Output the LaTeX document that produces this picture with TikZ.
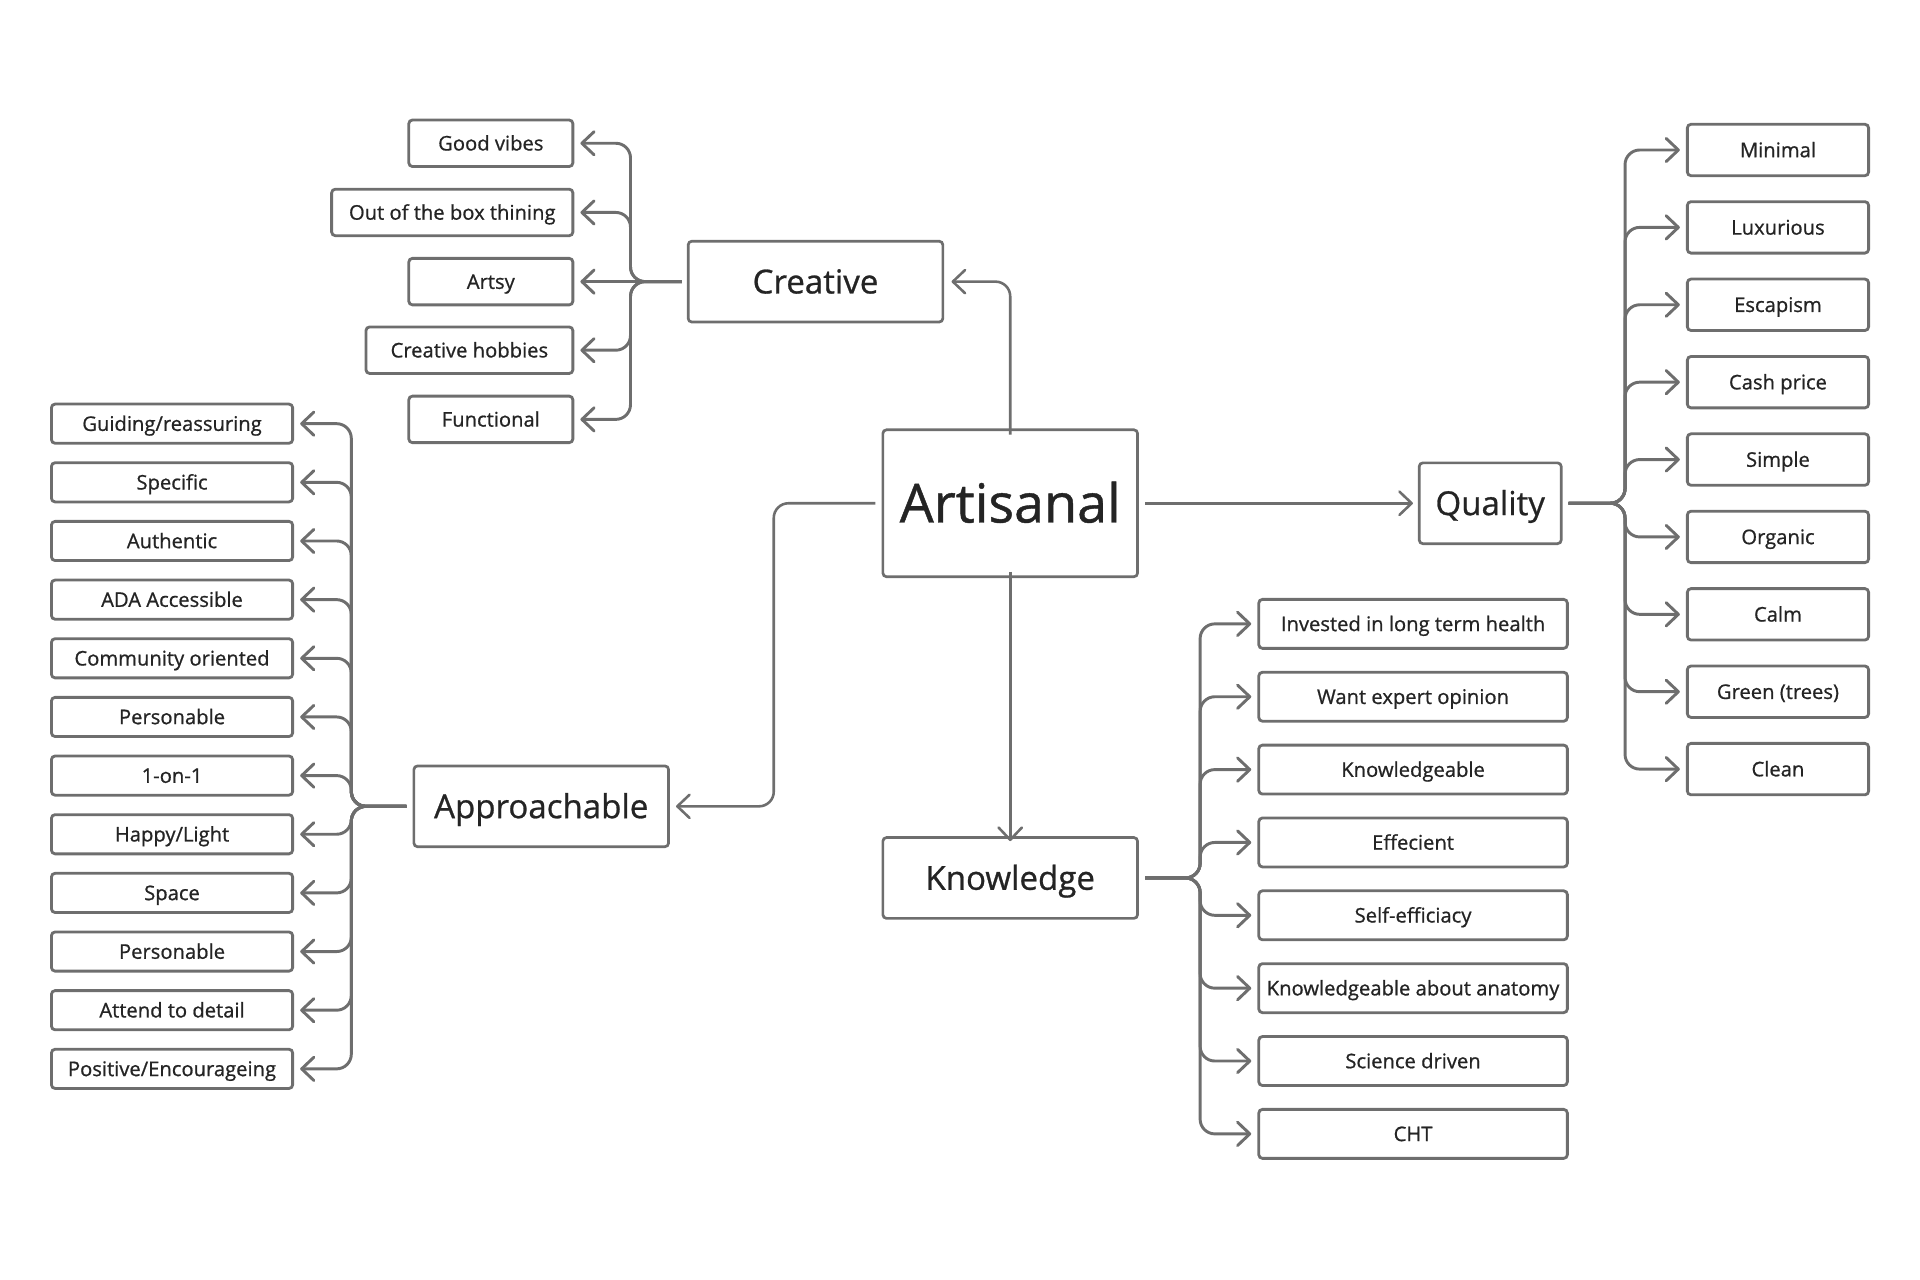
\documentclass[tikz,border=0pt]{standalone}
\usepackage{fontspec}
\setmainfont{Open Sans}[FakeBold=0.8, AutoFakeBold=0.8]
\usetikzlibrary{arrows.meta}
\definecolor{ln}{HTML}{6E6E6E}
\definecolor{tx}{HTML}{242424}
\tikzset{
  box/.style={draw=ln, line width=2.3pt, rounded corners=3pt, inner sep=0pt, text=tx, fill=white, text depth=0pt},
  item/.style={box, font=\fontsize{16.5}{19}\bfseries, text height=11.8pt},
  mainbox/.style={box, line width=2.2pt, font=\fontsize{27}{30}\bfseries, text height=19.3pt},
  tip/.style={-{Straight Barb[length=10pt,width=19pt,round]}},
  br/.style={draw=ln, line width=2.4pt, rounded corners=12pt, tip},
  mn/.style={draw=ln, line width=2.1pt, rounded corners=12pt, tip},
}
\begin{document}
\begin{tikzpicture}[x=1pt,y=-1pt]
\useasboundingbox (0,0) rectangle (1568,1045.33);
% main nodes
\node[mainbox, minimum width=208pt, minimum height=120pt, font=\fontsize{44}{48}\bfseries, text height=31.4pt] (art) at (825,411) {Artisanal};
\node[mainbox, minimum width=208pt, minimum height=66pt] (cre) at (666,230) {Creative};
\node[mainbox, minimum width=116pt, minimum height=66pt] (qua) at (1217,411) {Quality};
\node[mainbox, minimum width=208pt, minimum height=66pt] (kno) at (825,717) {Knowledge};
\node[mainbox, minimum width=208pt, minimum height=66pt] (app) at (442,658.5) {Approachable};
% creative items
\node[item, anchor=east, minimum width=134pt, minimum height=38pt] (c1) at (469,117) {Good vibes};
\node[item, anchor=east, minimum width=197pt, minimum height=38pt] (c2) at (469,173.5) {Out of the box thining};
\node[item, anchor=east, minimum width=134pt, minimum height=38pt] (c3) at (469,230) {Artsy};
\node[item, anchor=east, minimum width=169pt, minimum height=38pt] (c4) at (469,286) {Creative hobbies};
\node[item, anchor=east, minimum width=134pt, minimum height=38pt] (c5) at (469,342.5) {Functional};
% approachable items
\foreach \t [count=\i] in {Guiding/reassuring, Specific, Authentic, ADA Accessible, Community oriented, Personable, 1-on-1, Happy/Light, Space, Personable, Attend to detail, Positive/Encourageing}
  \node[item, minimum width=197pt, minimum height=32pt] (a\i) at (140.5,{346+47.9*(\i-1)}) {\t};
% quality items
\foreach \t [count=\i] in {Minimal, Luxurious, Escapism, Cash price, Simple, Organic, Calm, Green (trees), Clean}
  \node[item, minimum width=148pt, minimum height=42pt] (q\i) at (1452,{122.5+63.2*(\i-1)}) {\t};
% knowledge items
\foreach \t [count=\i] in {Invested in long term health, Want expert opinion, Knowledgeable, Effecient, Self-efficiacy, Knowledgeable about anatomy, Science driven, CHT}
  \node[item, minimum width=252pt, minimum height=40pt] (k\i) at (1154,{509.5+59.5*(\i-1)}) {\t};
% main connectors
\draw[mn] ([yshift=-5pt]art.north) |- ([xshift=6pt]cre.east);
\draw[mn] ([xshift=5pt]art.east) -- ([xshift=-4pt]qua.west);
\draw[mn] ([yshift=5pt]art.south) -- ([yshift=-4pt]kno.north);
\draw[mn] ([xshift=-5pt]art.west) -- ([xshift=-88pt]art.west) |- ([xshift=5pt]app.east);
% creative branches
\foreach \i in {1,2,4,5}
  \draw[br] ([xshift=-4pt]cre.west) -- ([xshift=-46pt]cre.west) |- ([xshift=5pt]c\i.east);
\draw[br] ([xshift=-4pt]cre.west) -- ([xshift=5pt]c3.east);
% approachable branches
\foreach \i in {1,...,12}
  \draw[br] ([xshift=-5pt]app.west) -- ([xshift=-50pt]app.west) |- ([xshift=5pt]a\i.east);
% quality branches
\foreach \i in {1,...,9}
  \draw[br] ([xshift=5pt]qua.east) -- ([xshift=51pt]qua.east) |- ([xshift=-5pt]q\i.west);
% knowledge branches
\foreach \i in {1,...,8}
  \draw[br] ([xshift=5pt]kno.east) -- ([xshift=50pt]kno.east) |- ([xshift=-5pt]k\i.west);
\end{tikzpicture}
\end{document}
